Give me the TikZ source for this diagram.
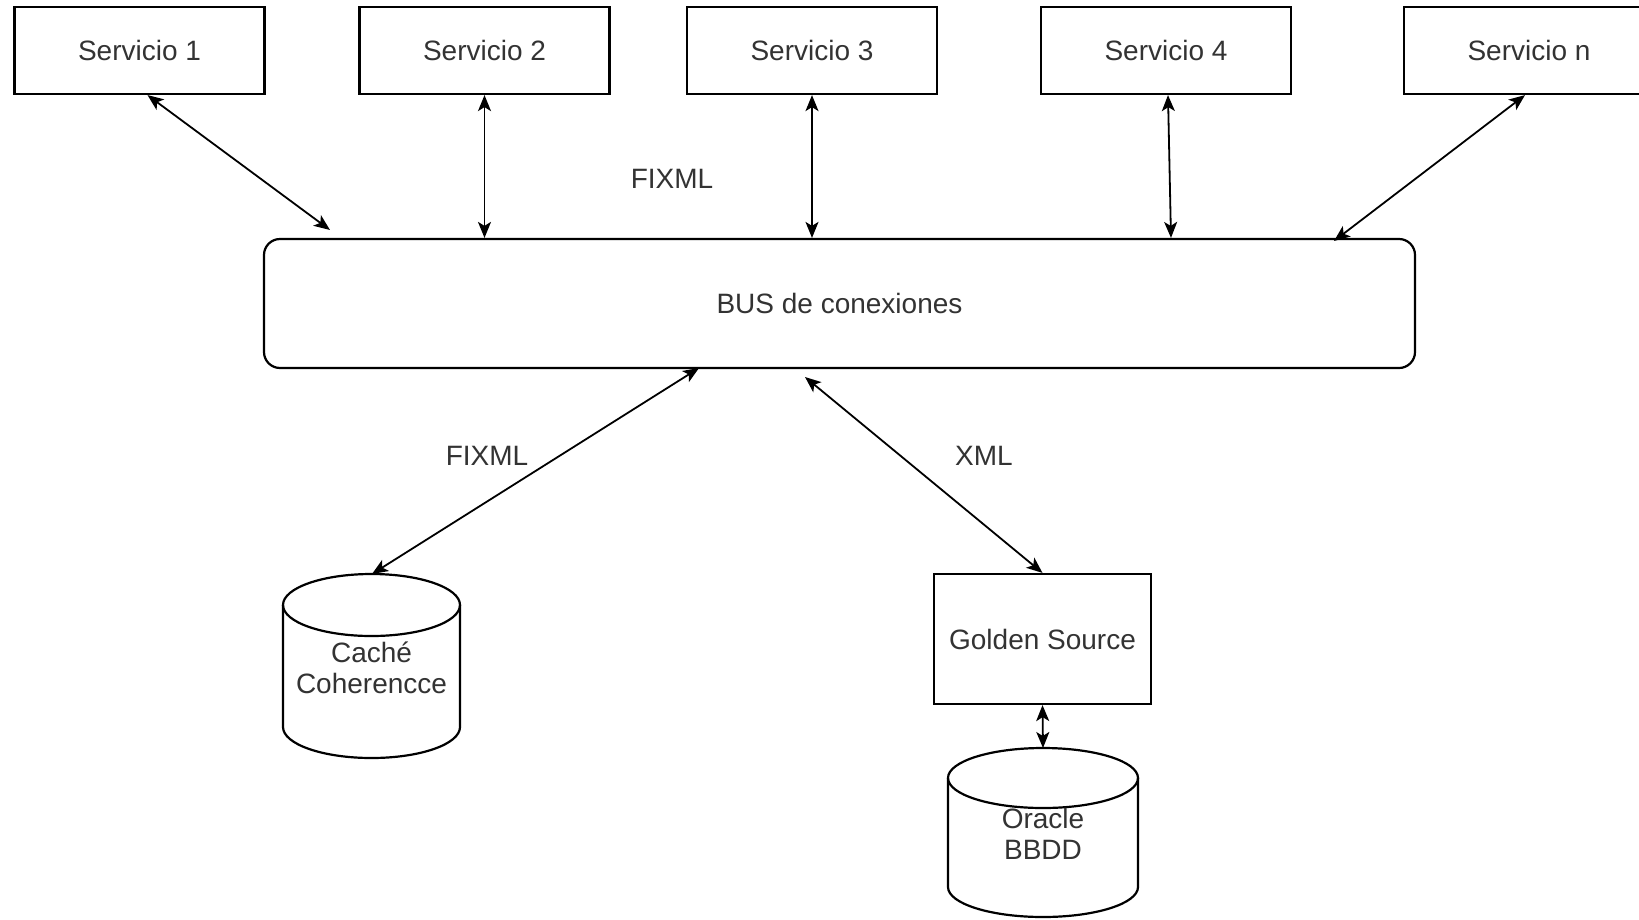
\documentclass[tikz,border=0pt]{standalone}
\usepackage{fontspec}
\setmainfont{Liberation Sans}
\usetikzlibrary{arrows.meta}

\begin{document}
\begin{tikzpicture}[x=1pt, y=1pt,
  every node/.style={font=\fontsize{28}{31}\selectfont, text=black!80},
  >={Stealth[length=16pt, width=13pt, inset=4pt]},
  box/.style={draw=black, line width=2.2pt, minimum width=250pt, minimum height=87pt},
  busbox/.style={draw=black, line width=2.2pt, rounded corners=16pt,
    minimum width=1151pt, minimum height=129pt},
  dbline/.style={draw=black, line width=2.2pt},
  link/.style={<->, line width=1.8pt}]
\clip (0,0) rectangle (1639,-919);
\fill[white] (0,0) rectangle (1639,-919);
\node[box] (s1) at (139.5,-50.5) {Servicio 1};
\node[box] (s2) at (484.5,-50.5) {Servicio 2};
\node[box] (s3) at (812,-50.5) {Servicio 3};
\node[box] (s4) at (1166,-50.5) {Servicio 4};
\node[box] (sn) at (1529,-50.5) {Servicio n};
\node[busbox] (bus) at (839.5,-303.5) {BUS de conexiones};
\node[box, minimum width=217pt, minimum height=130pt] (golden) at (1042.5,-639) {Golden Source};
\draw[dbline] (371.5,-605) ellipse [x radius=88.5pt, y radius=31pt];
\draw[dbline] (283,-605) -- (283,-727)
  arc [start angle=180, end angle=360, x radius=88.5pt, y radius=31pt] -- (460,-605);
\node[align=center] (cache) at (371.5,-668) {Caché\\Coherencce};
\draw[dbline] (1043,-778) ellipse [x radius=95pt, y radius=30pt];
\draw[dbline] (948,-778) -- (948,-887)
  arc [start angle=180, end angle=360, x radius=95pt, y radius=30pt] -- (1138,-778);
\node[align=center] (oracle) at (1043,-834) {Oracle\\BBDD};
\node (fixtop) at (672,-179) {FIXML};
\node (fixbot) at (487,-456) {FIXML};
\node (xml) at (984,-456) {XML};
\coordinate (b1) at (330,-230);
\coordinate (bn) at (1334,-241);
\coordinate (b2) at (699,-368);
\coordinate (b3) at (805,-377);
\coordinate (cachetop) at (372,-574);
\coordinate (oracletop) at (1043,-748);
\draw[link] ([xshift=8pt]s1.south) -- (b1);
\draw[link] (s2.south) -- (s2.south |- bus.north);
\draw[link] (s3.south) -- (s3.south |- bus.north);
\draw[link] ([xshift=2pt]s4.south) -- ([xshift=5pt]s4.south |- bus.north);
\draw[link] ([xshift=-4pt]sn.south) -- (bn);
\draw[link] (b2) -- (cachetop);
\draw[link] (b3) -- (golden.north);
\draw[link] (golden.south) -- (oracletop);
\end{tikzpicture}
\end{document}
